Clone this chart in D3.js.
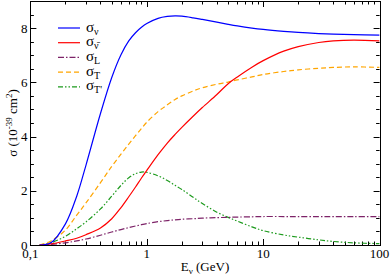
<!DOCTYPE html>
<html>
<head>
<meta charset="utf-8">
<script src="https://cdn.jsdelivr.net/npm/d3@7/dist/d3.min.js"></script>
<style>
body { margin: 0; background: #fff; }
</style>
</head>
<body>
<div id="chart"></div>
<script>
// energia do neutrino (GeV)
var energia = [0.12, 0.13, 0.15, 0.2, 0.25, 0.3, 0.4, 0.5, 0.6, 0.7, 0.8, 0.9, 1, 1.25, 1.5, 1.75, 2, 2.5, 3, 4, 5, 6, 8, 10, 15, 20, 30, 40, 60, 100];

// secoes de choque (10^-39 cm^2)
var sigmaNu    = [0, 0.01, 0.08, 0.78, 1.8, 2.94, 4.85, 6.18, 7.02, 7.53, 7.83, 8.03, 8.17, 8.36, 8.43, 8.45, 8.44, 8.38, 8.32, 8.22, 8.14, 8.08, 8.0, 7.95, 7.88, 7.84, 7.8, 7.78, 7.76, 7.74];
var sigmaNuBar = [0, 0.01, 0.04, 0.15, 0.25, 0.38, 0.63, 0.97, 1.38, 1.78, 2.14, 2.47, 2.75, 3.33, 3.76, 4.08, 4.34, 4.75, 5.07, 5.55, 5.95, 6.2, 6.56, 6.8, 7.15, 7.32, 7.47, 7.53, 7.56, 7.53];
var sigmaL     = [0, 0.005, 0.02, 0.08, 0.15, 0.22, 0.36, 0.48, 0.57, 0.64, 0.7, 0.75, 0.79, 0.86, 0.9, 0.93, 0.95, 0.97, 0.99, 1.01, 1.02, 1.03, 1.04, 1.05, 1.05, 1.05, 1.05, 1.05, 1.05, 1.05];
var sigmaT     = [0, 0.04, 0.15, 0.55, 1.1, 1.55, 2.3, 2.9, 3.35, 3.72, 4.03, 4.3, 4.53, 4.92, 5.17, 5.37, 5.5, 5.68, 5.8, 5.93, 6.01, 6.09, 6.2, 6.29, 6.4, 6.46, 6.52, 6.55, 6.57, 6.55];
var sigmaTp    = [0, 0.02, 0.08, 0.32, 0.6, 0.85, 1.33, 1.8, 2.2, 2.48, 2.63, 2.69, 2.68, 2.55, 2.38, 2.2, 2.05, 1.76, 1.53, 1.21, 1.02, 0.88, 0.67, 0.53, 0.37, 0.29, 0.19, 0.13, 0.08, 0.05];

var xTicks = [0.1, 1, 10, 100];
var xTickLabels = ["0,1", "1", "10", "100"];
var yTicks = [0, 2, 4, 6, 8];

var series = [
    {valores: sigmaNu,    sub: "ν",       cor: "#0000ff", dash: null},
    {valores: sigmaNuBar, sub: "ν\u0304", cor: "#ff0000", dash: null},
    {valores: sigmaL,     sub: "L",       cor: "#7d2368", dash: "6,2,1.5,2"},
    {valores: sigmaT,     sub: "T",       cor: "#ffa500", dash: "5,3"},
    {valores: sigmaTp,    sub: "T'",      cor: "#1c9a1c", dash: "5,2,1.5,2,1.5,2"}
];

var width = 390, height = 278;
var margin = {top: 1, right: 10.4, bottom: 33, left: 30.4};
var fonte = "'Liberation Serif'";

var svg = d3.select("#chart").append("svg")
    .attr("width", width)
    .attr("height", height)
    .style("font-family", fonte);

var x = d3.scaleLog()
    .domain([0.1, 100])
    .range([margin.left, width - margin.right]);

var y = d3.scaleLinear()
    .domain([0, 9])
    .range([height - margin.bottom, margin.top]);

var x0 = x.range()[0], x1 = x.range()[1];
var y0 = y.range()[0], y1 = y.range()[1];

// ticks menores
var xMinor = [];
[0.1, 1, 10].forEach(function(d){
    for (var k = 2; k <= 9; k++) xMinor.push(d * k);
});
var yMinor = d3.range(0, 9.01, 0.5).filter(function(v){ return v % 2 != 0; });

var g = svg.append("g").attr("class", "ticks")
    .attr("stroke", "#000").attr("stroke-width", 1);

function tickX(vals, len){
    vals.forEach(function(v){
        var px = Math.round(x(v)) + 0.5;
        g.append("line").attr("x1", px).attr("x2", px).attr("y1", y0).attr("y2", y0 - len);
        g.append("line").attr("x1", px).attr("x2", px).attr("y1", y1).attr("y2", y1 + len);
    });
}
function tickY(vals, len){
    vals.forEach(function(v){
        var py = Math.round(y(v)) + 0.5;
        g.append("line").attr("x1", x0).attr("x2", x0 + len).attr("y1", py).attr("y2", py);
        g.append("line").attr("x1", x1).attr("x2", x1 - len).attr("y1", py).attr("y2", py);
    });
}
tickX(xTicks, 6);
tickX(xMinor, 3.5);
tickY(yTicks, 6);
tickY(yMinor, 3.5);

// curvas
var line = d3.line()
    .x(function(d){ return x(d[0]); })
    .y(function(d){ return y(d[1]); })
    .curve(d3.curveCatmullRom.alpha(0.5));

svg.append("clipPath").attr("id", "area")
    .append("rect")
    .attr("x", x0).attr("y", y1)
    .attr("width", x1 - x0).attr("height", y0 - y1);

series.slice().reverse().forEach(function(s){
    var pts = energia.map(function(e, i){ return [e, s.valores[i]]; });
    svg.append("path")
        .attr("d", line(pts))
        .attr("clip-path", "url(#area)")
        .style("fill", "none")
        .style("stroke", s.cor)
        .style("stroke-width", 1.2)
        .style("stroke-dasharray", s.dash);
});

// moldura
svg.append("rect")
    .attr("x", Math.round(x0) + 0.5).attr("y", Math.round(y1) + 0.5)
    .attr("width", Math.round(x1) - Math.round(x0))
    .attr("height", Math.round(y0) - Math.round(y1))
    .style("fill", "none")
    .style("stroke", "#000")
    .style("stroke-width", 1);

// rotulos dos ticks
svg.selectAll(".xlab")
    .data(xTicks)
    .enter().append("text")
    .attr("class", "xlab")
    .attr("x", function(d){ return x(d); })
    .attr("y", y0 + 13)
    .attr("text-anchor", "middle")
    .style("font-family", fonte)
    .style("font-size", "13px")
    .text(function(d, i){ return xTickLabels[i]; });

svg.selectAll(".ylab")
    .data(yTicks)
    .enter().append("text")
    .attr("class", "ylab")
    .attr("x", x0 - 3)
    .attr("y", function(d){ return y(d) + 4.5; })
    .attr("text-anchor", "end")
    .style("font-family", fonte)
    .style("font-size", "13px")
    .text(function(d){ return d; });

// titulos dos eixos
var tx = svg.append("text")
    .attr("x", (x0 + x1) / 2)
    .attr("y", 271)
    .attr("text-anchor", "middle")
    .style("font-family", fonte)
    .style("font-size", "13px");
tx.append("tspan").text("E");
tx.append("tspan").attr("dy", 3).style("font-size", "9px").text("ν");
tx.append("tspan").attr("dy", -3).text(" (GeV)");

var ty = svg.append("text")
    .attr("transform", "translate(17," + ((y0 + y1) / 2) + ") rotate(-90)")
    .attr("text-anchor", "middle")
    .style("font-family", fonte)
    .style("font-size", "13px");
ty.append("tspan").text("σ (10");
ty.append("tspan").attr("dy", -5).style("font-size", "9px").text("-39");
ty.append("tspan").attr("dy", 5).text(" cm");
ty.append("tspan").attr("dy", -5).style("font-size", "9px").text("2");
ty.append("tspan").attr("dy", 5).text(")");

// legenda
var leg = svg.append("g").attr("class", "legenda");
series.forEach(function(s, i){
    var ly = 28 + i * 14.7;
    leg.append("line")
        .attr("x1", 58).attr("x2", 80)
        .attr("y1", ly).attr("y2", ly)
        .style("stroke", s.cor)
        .style("stroke-width", 1.2)
        .style("stroke-dasharray", s.dash);
    var t = leg.append("text")
        .attr("x", 86)
        .attr("y", ly + 3.5)
        .style("font-family", fonte)
        .style("font-size", "15px");
    t.append("tspan").text("σ");
    t.append("tspan").attr("dy", 3).style("font-size", "10px").text(s.sub);
});
</script>
</body>
</html>
